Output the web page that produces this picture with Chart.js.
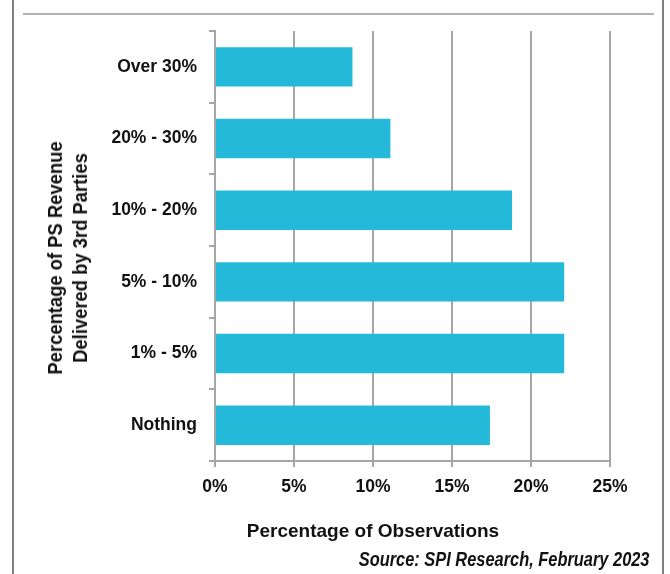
<!DOCTYPE html>
<html>
<head>
<meta charset="utf-8">
<script src="https://cdn.jsdelivr.net/npm/chart.js@4"></script>
<style>
  body { margin: 0; background: #fff; }
  #wrap { position: relative; width: 670px; height: 574px; overflow: hidden; }
  #chart { position: absolute; left: 0; top: 0; }
  .line { position: absolute; }
  .txt { position: absolute; color: #111; white-space: nowrap; }
  #ytitle {
    left: 68px; top: 258px;
    font: bold 20px 'Liberation Sans', Arial, sans-serif;
    line-height: 25px; text-align: center;
    transform: translate(-50%, -50%) rotate(-90deg) scaleX(0.92);
  }
  #xtitle {
    left: 373px; top: 521px;
    font: bold 19px 'Liberation Sans', Arial, sans-serif;
    line-height: 19px;
    transform: translateX(-50%);
  }
  #source {
    right: 21px; top: 549px;
    font: italic bold 20.5px 'Liberation Sans', Arial, sans-serif;
    line-height: 20px;
    transform: scaleX(0.8);
    transform-origin: right center;
  }
</style>
</head>
<body>
<div id="wrap">
  <div class="line" style="left:12px;top:0;width:2px;height:574px;background:#808080"></div>
  <div class="line" style="left:662px;top:0;width:2px;height:574px;background:#808080"></div>
  <div class="line" style="left:23px;top:13px;width:631px;height:2px;background:#b3b3b3"></div>
  <canvas id="chart"></canvas>
  <div class="txt" id="ytitle">Percentage of PS Revenue<br>Delivered by 3rd Parties</div>
  <div class="txt" id="xtitle">Percentage of Observations</div>
  <div class="txt" id="source">Source: SPI Research, February 2023</div>
</div>
<script>
const categories = ['Over 30%', '20% - 30%', '10% - 20%', '5% - 10%', '1% - 5%', 'Nothing'];
const shares = [8.7, 11.1, 18.8, 22.1, 22.1, 17.4];
const xTicks = [0, 5, 10, 15, 20, 25];

const gridGray = '#a6a6a6';
const labelFont = "'Liberation Sans', Arial, sans-serif";
const canvas = document.getElementById('chart');
canvas.width = 670;
canvas.height = 574;
canvas.style.width = '670px';
canvas.style.height = '574px';

new Chart(canvas, {
  type: 'bar',
  data: {
    labels: categories,
    datasets: [
      {
        data: shares,
        backgroundColor: '#24b8d9',
        borderWidth: 0,
        categoryPercentage: 1,
        barPercentage: 0.55,
      },
    ],
  },
  options: {
    indexAxis: 'y',
    responsive: false,
    animation: false,
    layout: { padding: { top: 31, right: 60, left: 0, bottom: 0 } },
    plugins: { legend: { display: false }, tooltip: { enabled: false } },
    scales: {
      x: {
        min: xTicks[0],
        max: xTicks[xTicks.length - 1],
        afterFit: (scale) => { scale.height = 113; },
        afterBuildTicks: (scale) => { scale.ticks = xTicks.map((v) => ({ value: v })); },
        ticks: {
          callback: (v) => v + '%',
          color: '#111',
          padding: 10,
          font: { family: labelFont, size: 17.5, weight: 'bold' },
        },
        grid: { color: gridGray, lineWidth: 2, tickLength: 6, drawTicks: true },
        border: { color: gridGray, width: 2 },
      },
      y: {
        afterFit: (scale) => { scale.width = 215; },
        ticks: {
          color: '#111',
          padding: 12,
          font: { family: labelFont, size: 17.5, weight: 'bold' },
        },
        grid: { drawOnChartArea: false, color: gridGray, lineWidth: 2, tickLength: 6 },
        border: { color: gridGray, width: 2 },
      },
    },
  },
});
</script>
</body>
</html>
